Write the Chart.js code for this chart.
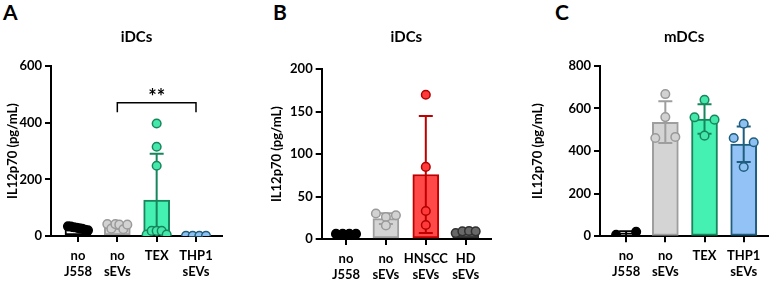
<!DOCTYPE html>
<html><head><meta charset="utf-8">
<script src="https://cdn.jsdelivr.net/npm/chart.js@4.4.1/dist/chart.umd.min.js"></script>
<style>
html,body{margin:0;padding:0;background:#fff;width:774px;height:281px;overflow:hidden;}
canvas{position:absolute;top:0;}
.lbl{position:absolute;font-family:Lato,sans-serif;font-weight:bold;font-size:21px;color:#000;line-height:1;}
</style></head><body>
<div class="lbl" style="left:3px;top:1px">A</div>
<div class="lbl" style="left:273px;top:1px">B</div>
<div class="lbl" style="left:555px;top:1px">C</div>
<canvas id="cA" style="left:0px" width="250" height="281"></canvas>
<canvas id="cB" style="left:255px" width="255" height="281"></canvas>
<canvas id="cC" style="left:515px" width="259" height="281"></canvas>
<script>
// ---------- data ----------
const yTitle = 'IL12p70 (pg/mL)';

const titleA = 'iDCs';
const catsA = [['no','J558'],['no','sEVs'],'TEX',['THP1','sEVs']];
const ticksA = [0,200,400,600];
const meanA = [25,33,127,1];
const sdA = [7,8,163,0.5];
const ptsA = [[34,33,31,29,27,25,22,20],[42,26,42,40,24,40],[397,315,248,5,18,18,18,5],[1,1,1,1]];
const sigA = {from:1, to:3, y:470, drop:437, text:'**'};

const titleB = 'iDCs';
const catsB = [['no','J558'],['no','sEVs'],['HNSCC','sEVs'],['HD','sEVs']];
const ticksB = [0,50,100,150,200];
const meanB = [6,24,76,7.5];
const sdB = [0.5,6.3,69,1];
const ptsB = [[6,6,6,6],[30,26,28,16],[170,85,33,16.5],[7,9,9.5,9]];

const titleC = 'mDCs';
const catsC = [['no','J558'],['no','sEVs'],'TEX',['THP1','sEVs']];
const ticksC = [0,200,400,600,800];
const meanC = [14,535,550,432];
const sdC = [10,98,69,83];
const ptsC = [[7,21],[667,559,461,466],[640,558,547,472],[528,461,441,325]];

// ---------- styles ----------
const C_WHITE = {fill:'#ffffff', border:'#000000', pf:'#000000', pb:'#000000'};
const C_GREY  = {fill:'#d4d4d4', border:'#9e9e9e', pf:'#d2d2d2', pb:'#9a9a9a'};
const C_MINT  = {fill:'#44f0b2', border:'#17865c', pf:'#44e8aa', pb:'#17865c'};
const C_BLUE  = {fill:'#92c2f6', border:'#1f5e7e', pf:'#8ec0f2', pb:'#1f5e7e'};
const C_RED   = {fill:'#ff4848', border:'#c00000', pf:'#ff3a3a', pb:'#b00000'};
const C_DARK  = {fill:'#5c5c5c', border:'#2e2e2e', pf:'#686868', pb:'#303030'};

const FONT = 'Lato';

const errPlugin = {
  id:'errbars',
  afterDatasetDraw(chart, args){
    if (args.index !== 0) return;
    const o = chart.options.plugins.errbars;
    const xs = chart.scales.x, ys = chart.scales.y, ctx = chart.ctx;
    ctx.save();
    ctx.lineWidth = 2;
    o.means.forEach((m,i)=>{
      const sd = o.sd[i];
      const x = xs.getPixelForValue(i);
      const top = ys.getPixelForValue(m+sd);
      const bot = ys.getPixelForValue(Math.max(0, m-sd));
      ctx.strokeStyle = o.colors[i].border;
      ctx.beginPath();
      ctx.moveTo(x, bot); ctx.lineTo(x, top);
      ctx.moveTo(x-7, top); ctx.lineTo(x+7, top);
      if (m-sd > 0) { ctx.moveTo(x-7, bot); ctx.lineTo(x+7, bot); }
      ctx.stroke();
    });
    ctx.restore();
  },
  afterDraw(chart){
    const s = chart.options.plugins.errbars.sig;
    if (!s) return;
    const xs = chart.scales.x, ys = chart.scales.y, ctx = chart.ctx;
    const x1 = xs.getPixelForValue(s.from), x2 = xs.getPixelForValue(s.to);
    const yt = ys.getPixelForValue(s.y), yd = ys.getPixelForValue(s.drop);
    ctx.save();
    ctx.strokeStyle = '#000'; ctx.lineWidth = 1.5;
    ctx.beginPath();
    ctx.moveTo(x1, yd); ctx.lineTo(x1, yt); ctx.lineTo(x2, yt); ctx.lineTo(x2, yd);
    ctx.stroke();
    ctx.fillStyle = '#000';
    ctx.font = 'bold 20px ' + FONT;
    ctx.textAlign = 'center'; ctx.textBaseline = 'alphabetic';
    ctx.fillText(s.text, (x1+x2)/2, yt + 1);
    ctx.restore();
  }
};

function panel(id, o){
  const ptData = [], pf = [], pb = [];
  o.pts.forEach((arr,i)=>arr.forEach(v=>{ ptData.push({x:i, y:v}); pf.push(o.colors[i].pf); pb.push(o.colors[i].pb); }));
  const chart = new Chart(document.getElementById(id), {
    type:'bar',
    data:{datasets:[
      {type:'bar', data:o.means.map((m,i)=>({x:i,y:m})),
       backgroundColor:o.colors.map(c=>c.fill), borderColor:o.colors.map(c=>c.border),
       borderWidth:2, borderSkipped:false, barThickness:26, order:2},
      {type:'scatter', data:ptData, pointBackgroundColor:pf, pointBorderColor:pb,
       pointRadius:4.3, pointBorderWidth:1.5, order:1}
    ]},
    options:{
      responsive:false, animation:false, events:[],
      layout:{padding:{left:0, right:o.padR, top:0, bottom:0}},
      plugins:{
        legend:{display:false}, tooltip:{enabled:false},
        title:{display:true, text:o.title, fullSize:false, color:'#000',
               font:{family:FONT, size:15, weight:'bold', lineHeight:1.2},
               padding:{top:28, bottom:o.titleBottom}},
        errbars:{means:o.means, sd:o.sd, colors:o.colors, sig:o.sig}
      },
      scales:{
        x:{type:'linear', min:o.xmin, max:o.xmax, offset:false,
           afterBuildTicks:s=>{ s.ticks = o.cats.map((c,i)=>({value:i})); },
           afterFit:s=>{ s.height = o.xH; s.paddingLeft = 0; s.paddingRight = 0; },
           ticks:{callback:v=>o.cats[v], color:'#000', padding:5, maxRotation:0, autoSkip:false,
                  font:{family:FONT, size:13, weight:'bold', lineHeight:1.28}},
           grid:{display:true, offset:false, drawOnChartArea:false, drawTicks:true, tickLength:6, color:'#000', lineWidth:2},
           border:{display:true, color:'#000', width:2}},
        y:{min:0, max:o.ticks[o.ticks.length-1],
           afterBuildTicks:s=>{ s.ticks = o.ticks.map(v=>({value:v})); },
           afterFit:s=>{ s.width = o.yW; s.paddingTop = 0; s.paddingBottom = 0; },
           ticks:{color:'#000', padding:3, font:{family:FONT, size:13, weight:'bold'}},
           grid:{display:true, drawOnChartArea:false, drawTicks:true, tickLength:6, color:'#000', lineWidth:2},
           border:{display:true, color:'#000', width:2},
           title:{display:true, text:yTitle, color:'#000', padding:{top:o.yTitlePad, bottom:0},
                  font:{family:FONT, size:13, weight:'bold', lineHeight:1.2}}}
      }
    },
    plugins:[errPlugin]
  });
  // spread overlapping points horizontally (simple row swarm)
  const xs = chart.scales.x, ys = chart.scales.y;
  const pxPerUnit = xs.getPixelForValue(1) - xs.getPixelForValue(0);
  const newData = [];
  o.pts.forEach((arr,g)=>{
    const idx = arr.map((v,k)=>k).sort((a,b)=>arr[b]-arr[a]);
    const bins = [];
    idx.forEach(k=>{
      const py = ys.getPixelForValue(arr[k]);
      const last = bins[bins.length-1];
      if (last && Math.abs(py - last.py0) <= 7) last.items.push(k);
      else bins.push({py0:py, items:[k]});
    });
    const off = new Array(arr.length).fill(0);
    bins.forEach(b=>{
      const it = b.items.slice().sort((a,c)=>a-c);
      const n = it.length;
      if (n > 1) it.forEach((k,j)=>{ off[k] = -10 + 20*j/(n-1); });
    });
    arr.forEach((v,k)=>newData.push({x:g + off[k]/pxPerUnit, y:v}));
  });
  chart.data.datasets[1].data = newData;
  chart.update('none');
  return chart;
}

document.fonts.load('bold 12px Lato').then(()=>{
  panel('cA', {title:titleA, cats:catsA, ticks:ticksA, means:meanA, sd:sdA, pts:ptsA, sig:sigA,
    colors:[C_WHITE,C_GREY,C_MINT,C_BLUE], padR:28, yW:51, xH:45, titleBottom:20,
    xmin:-0.686, xmax:3.661, yTitlePad:5});
  panel('cB', {title:titleB, cats:catsB, ticks:ticksB, means:meanB, sd:sdB, pts:ptsB, sig:null,
    colors:[C_WHITE,C_GREY,C_RED,C_DARK], padR:19, yW:66.7, xH:42, titleBottom:23.3,
    xmin:-0.609, xmax:3.634, yTitlePad:14});
  panel('cC', {title:titleC, cats:catsC, ticks:ticksC, means:meanC, sd:sdC, pts:ptsC, sig:null,
    colors:[C_WHITE,C_GREY,C_MINT,C_BLUE], padR:2.3, yW:85, xH:44.7, titleBottom:19.7,
    xmin:-0.667, xmax:3.625, yTitlePad:15});
});
</script>
</body></html>
